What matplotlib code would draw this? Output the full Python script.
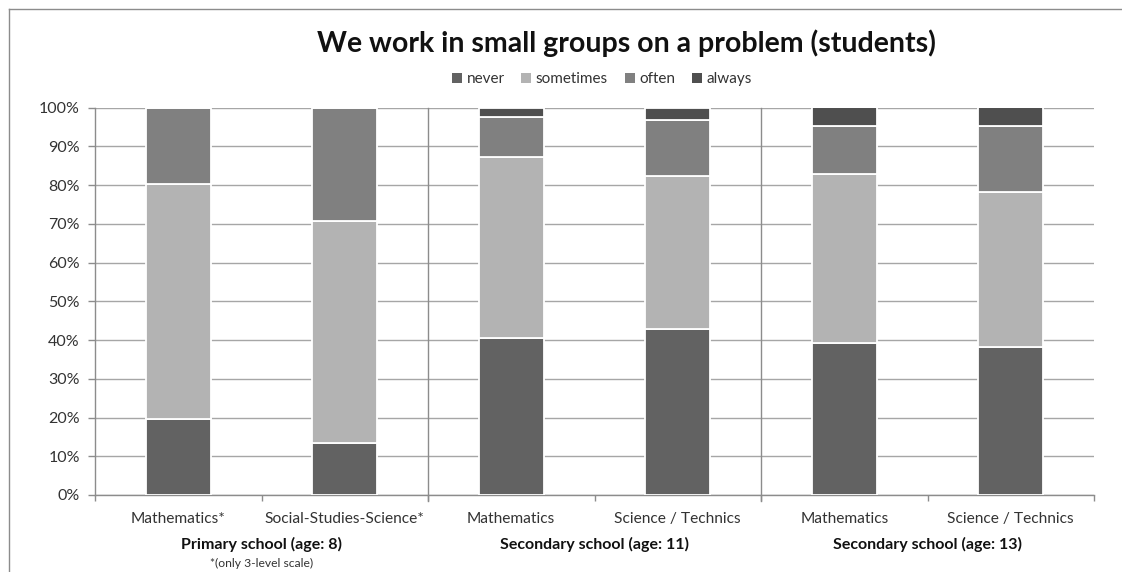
import matplotlib
matplotlib.use("Agg")
import matplotlib.pyplot as plt
from matplotlib.lines import Line2D
from matplotlib.patches import Patch
import numpy as np

plt.rcParams['font.family'] = ['Lato', 'DejaVu Sans']

# Survey categories (x axis) and group headings
categories = ["Mathematics*", "Social-Studies-Science*",
              "Mathematics", "Science / Technics",
              "Mathematics", "Science / Technics"]
groups = ["Primary school (age: 8)", "Secondary school (age: 11)",
          "Secondary school (age: 13)"]
footnote = "*(only 3-level scale)"

# Answer shares in percent
never = [19.5, 13.3, 40.5, 42.8, 39.1, 38.1]
sometimes = [60.7, 57.4, 46.6, 39.6, 43.7, 40.1]
often = [19.8, 29.3, 10.5, 14.3, 12.5, 17.1]
always = [0.0, 0.0, 2.4, 3.3, 4.7, 4.7]

series = ["never", "sometimes", "often", "always"]
values = [never, sometimes, often, always]
colors = ["#626262", "#b3b3b3", "#808080", "#4f4f4f"]

W, H = 1122, 572
fig = plt.figure(figsize=(W / 100, H / 100), dpi=100)
ax = fig.add_axes([95 / W, 77 / H, (1094 - 95) / W, (495 - 107.5) / H])

x = np.arange(len(categories))
bottom = np.zeros(len(categories))
for name, vals, col in zip(series, values, colors):
    v = np.array(vals)
    ax.bar(x, v, width=0.39, bottom=bottom, color=col, edgecolor="white",
           linewidth=1.3, label=name, zorder=3)
    bottom += v

ax.set_xlim(-0.5, len(categories) - 0.5)
ax.set_ylim(0, 100)
ax.set_yticks(np.arange(0, 101, 10))
ax.set_yticklabels([f"{t}%" for t in range(0, 101, 10)], fontsize=11.5,
                   color="#333333")
ax.yaxis.grid(True, color="#a6a6a6", linewidth=1.0, zorder=0)
ax.set_axisbelow(True)

ax.set_xticks(x)
ax.set_xticklabels(categories, fontsize=11.2, color="#333333")
ax.tick_params(axis="x", which="major", length=0, pad=12)
ax.set_xticks(np.arange(-0.5, len(categories), 1.0), minor=True)
ax.tick_params(axis="x", which="minor", length=4.5, width=1.0,
               color="#8c8c8c", direction="out")
ax.tick_params(axis="y", length=5, width=1.0, color="#8c8c8c", pad=6)

for side in ["top", "right"]:
    ax.spines[side].set_visible(False)
for side in ["left", "bottom"]:
    ax.spines[side].set_color("#8c8c8c")
    ax.spines[side].set_linewidth(1.0)

# Separators between the school groups
for gx in [1.5, 3.5]:
    ax.axvline(gx, ymin=-0.016, ymax=1.0, color="#8c8c8c", linewidth=1.0,
               clip_on=False, zorder=1)

# Group headings under the category labels
trans = ax.get_xaxis_transform()
for i, g in enumerate(groups):
    ax.text(2 * i + 0.5, -0.127, g, transform=trans, ha="center", va="center",
            fontsize=11.5, fontweight="bold", color="#111111")
ax.text(0.5, -0.177, footnote, transform=trans, ha="center", va="center",
        fontsize=8.7, color="#333333")

fig.text(626 / W, 1 - 43 / H, "We work in small groups on a problem (students)",
         ha="center", va="center", fontsize=20.5, fontweight="bold",
         color="#111111")

handles = [Patch(facecolor=c, edgecolor="none") for c in colors]
fig.legend(handles, series, loc="center", bbox_to_anchor=(602 / W, 1 - 79 / H),
           ncol=4, frameon=False, fontsize=11, handlelength=0.65,
           handleheight=0.65, handletextpad=0.3, columnspacing=1.1,
           labelcolor="#333333")

# Outer chart frame (left and top edges)
fig.add_artist(Line2D([8.5 / W, 8.5 / W], [0, 1 - 8.5 / H],
                      transform=fig.transFigure, color="#8c8c8c", linewidth=1.0))
fig.add_artist(Line2D([8.5 / W, 1], [1 - 8.5 / H, 1 - 8.5 / H],
                      transform=fig.transFigure, color="#8c8c8c", linewidth=1.0))

fig.savefig("out.png", dpi=100)
